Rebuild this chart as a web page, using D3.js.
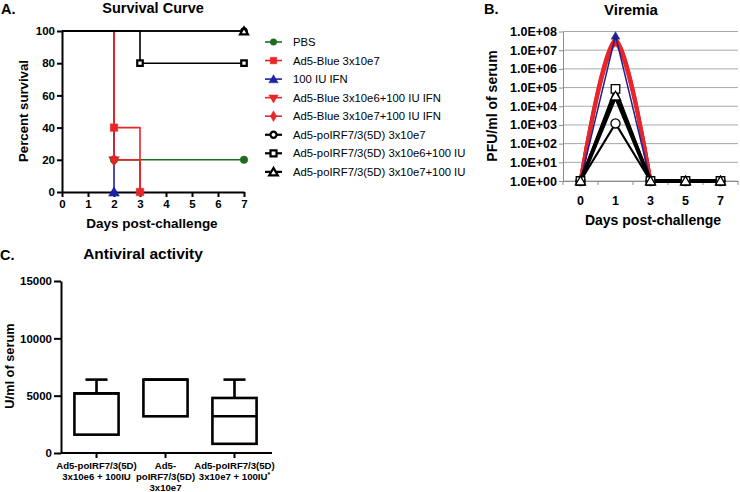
<!DOCTYPE html>
<html><head><meta charset="utf-8">
<script src="https://cdn.jsdelivr.net/npm/d3@7"></script>
<style>
body{margin:0;background:#fff}
svg{display:block;font-family:"Liberation Sans",Arial,Helvetica,sans-serif}
</style>
</head><body>
<svg id="chart" width="740" height="492"></svg>
<script>
// ================= DATA =================
// Panel A: survival curve
const survivalSeries = ["PBS","Ad5-Blue 3x10e7","100 IU IFN","Ad5-Blue 3x10e6+100 IU IFN","Ad5-Blue 3x10e7+100 IU IFN","Ad5-poIRF7/3(5D) 3x10e7","Ad5-poIRF7/3(5D) 3x10e6+100 IU","Ad5-poIRF7/3(5D) 3x10e7+100 IU"];
const survivalDays = [[0,2,7],[0,2,3],[0,2],[0,2,3],[0,2,3],[0,7],[0,3,7],[0,7]];
const survivalPercent = [[100,20,20],[100,40,0],[100,0],[100,20,0],[100,20,0],[100,100],[100,80,80],[100,100]];
const survivalTicksX = [0,1,2,3,4,5,6,7];
const survivalTicksY = [0,20,40,60,80,100];

// Panel B: viremia
const viremiaDays = ["0","1","3","5","7"];
const viremiaSeries = ["Ad5-Blue 3x10e7","Ad5-Blue 3x10e6+100 IU IFN","Ad5-Blue 3x10e7+100 IU IFN","100 IU IFN","Ad5-poIRF7/3(5D) 3x10e7","Ad5-poIRF7/3(5D) 3x10e6+100 IU","Ad5-poIRF7/3(5D) 3x10e7+100 IU"];
const viremiaValues = [
  [1,2.0e7,1,null,null],
  [1,2.8e7,1,null,null],
  [1,3.6e7,1,null,null],
  [1,6.0e7,1,null,null],
  [1,1.2e3,1,1,1],
  [1,8.5e4,1,1,1],
  [1,3.5e4,1,1,1]
];
const viremiaTicks = [1e0,1e1,1e2,1e3,1e4,1e5,1e6,1e7,1e8];
const viremiaTickLabels = ["1.0E+00","1.0E+01","1.0E+02","1.0E+03","1.0E+04","1.0E+05","1.0E+06","1.0E+07","1.0E+08"];

// Panel C: antiviral activity (box plots)
const activityGroups = [["Ad5-poIRF7/3(5D)","3x10e6 + 100IU"],["Ad5-","poIRF7/3(5D)","3x10e7"],["Ad5-poIRF7/3(5D)","3x10e7 + 100IU*"]];
const activityMin = [1600,3200,800];
const activityQ1 = [1600,3200,800];
const activityMedian = [5200,6400,3200];
const activityQ3 = [5200,6400,4800];
const activityMax = [6400,6400,6400];
const activityTicks = [0,5000,10000,15000];

// ================= STYLE =================
const RED = "#e8262a", GREEN = "#1d6b1d", BLUE = "#1f22a8", NAVY = "#1c1f8c";
const survStyle = [
  {color:GREEN, shape:"circle", fill:GREEN},
  {color:RED, shape:"square", fill:RED},
  {color:BLUE, shape:"triangle", fill:BLUE},
  {color:RED, shape:"invtriangle", fill:RED, hideZero:true},
  {color:RED, shape:"diamond", fill:RED, hideZero:true},
  {color:"#000", shape:"circle", fill:"#fff"},
  {color:"#000", shape:"square", fill:"#fff"},
  {color:"#000", shape:"triangle", fill:"#fff"}
];
const drawOrder = [3,0,2,4,1,5,6,7];

const svg = d3.select("#chart");

function marker(g, shape, x, y, size, fill, stroke, sw) {
  let sym;
  const area = size*size;
  if (shape === "circle") sym = d3.symbol(d3.symbolCircle, area*0.8);
  else if (shape === "square") sym = d3.symbol(d3.symbolSquare, area);
  else if (shape === "triangle") sym = d3.symbol(d3.symbolTriangle, area*0.9);
  else if (shape === "invtriangle") sym = d3.symbol(d3.symbolTriangle, area*0.9);
  else sym = d3.symbol(d3.symbolDiamond, area*0.8);
  g.append("path").attr("d", sym())
    .attr("transform", `translate(${x},${y})` + (shape==="invtriangle"?" rotate(180)":"") + (shape==="triangle"?" translate(0,1)":""))
    .attr("fill", fill).attr("stroke", stroke).attr("stroke-width", sw);
}

function styleAxis(g, sw, fs) {
  g.selectAll("path.domain").attr("stroke","#000").attr("stroke-width",sw);
  g.selectAll(".tick line").attr("stroke","#000").attr("stroke-width",sw);
  g.selectAll(".tick text").attr("fill","#000").attr("font-size",fs).attr("font-weight","bold")
    .attr("font-family",'"Liberation Sans",Arial,sans-serif');
}

// ================= PANEL A =================
{
  const x = d3.scaleLinear().domain([0,7]).range([62,244]);
  const y = d3.scaleLinear().domain([0,100]).range([192,31]);
  const g = svg.append("g");

  g.append("text").attr("x",1).attr("y",13.5).text("A.").attr("font-size",14.5).attr("font-weight","bold");
  g.append("text").attr("x",153).attr("y",13).attr("text-anchor","middle").text("Survival Curve").attr("font-size",14.5).attr("font-weight","bold");

  const line = d3.line().x(d=>x(d[0])).y(d=>y(d[1])).curve(d3.curveStepAfter);
  drawOrder.forEach(i => {
    const pts = survivalDays[i].map((d,k)=>[d, survivalPercent[i][k]]);
    g.append("path").attr("d", line(pts)).attr("fill","none")
      .attr("stroke", survStyle[i].color).attr("stroke-width", 1.6);
  });

  const ax = g.append("g").attr("transform","translate(0,192)")
    .call(d3.axisBottom(x).tickValues(survivalTicksX).tickFormat(d3.format("d")).tickSize(5).tickSizeOuter(0).tickPadding(3));
  styleAxis(ax, 2, 11.5);
  const ay = g.append("g").attr("transform","translate(62,0)")
    .call(d3.axisLeft(y).tickValues(survivalTicksY).tickFormat(d3.format("d")).tickSize(5).tickSizeOuter(0).tickPadding(2));
  styleAxis(ay, 2, 11.5);

  drawOrder.forEach(i => {
    const s = survStyle[i];
    survivalDays[i].forEach((d,k) => {
      if (k === 0) return;
      if (s.hideZero && survivalPercent[i][k] === 0) return;
      const open = s.fill === "#fff";
      marker(g, s.shape, x(d), y(survivalPercent[i][k]), open?5.5:7.5, s.fill, s.color, open?2.2:0.5);
    });
  });

  g.append("text").attr("x",152).attr("y",228).attr("text-anchor","middle").text("Days post-challenge")
    .attr("font-size",13.5).attr("font-weight","bold");
  g.append("text").attr("transform","translate(28,111) rotate(-90)").attr("text-anchor","middle")
    .text("Percent survival").attr("font-size",13.2).attr("font-weight","bold");

  // legend
  const lg = svg.append("g");
  survivalSeries.forEach((name,i) => {
    const cy = 42 + i*18.55;
    const s = survStyle[i];
    const open = s.fill === "#fff";
    lg.append("line").attr("x1",265).attr("x2",282).attr("y1",cy).attr("y2",cy)
      .attr("stroke",s.color).attr("stroke-width", open?2.2:1.6);
    marker(lg, s.shape, 273.5, cy, open?6:6.5, s.fill, s.color, open?2.2:0.5);
    lg.append("text").attr("x",293).attr("y",cy+4).text(name).attr("font-size",11.3);
  });
}

// ================= PANEL B =================
{
  const x = d3.scaleBand().domain(viremiaDays).range([563,738]);
  const y = d3.scaleLog().domain([1,1e8]).range([181,31.5]);
  const g = svg.append("g");
  const cx = d => x(d) + x.bandwidth()/2;

  g.append("text").attr("x",484).attr("y",13.5).text("B.").attr("font-size",14.5).attr("font-weight","bold");
  g.append("text").attr("x",631).attr("y",15).attr("text-anchor","middle").text("Viremia").attr("font-size",15).attr("font-weight","bold");

  // gridlines
  g.selectAll("line.grid").data(viremiaTicks).join("line")
    .attr("x1",563).attr("x2",738).attr("y1",d=>y(d)).attr("y2",d=>y(d))
    .attr("stroke","#a9a9a9").attr("stroke-width",1);

  const ay = g.append("g").attr("transform","translate(563,0)")
    .call(d3.axisLeft(y).tickValues(viremiaTicks).tickFormat((d,i)=>viremiaTickLabels[i]).tickSize(4).tickSizeOuter(0).tickPadding(2));
  styleAxis(ay, 1, 12.5);
  ay.selectAll("path.domain, .tick line").attr("stroke","#8c8c8c");

  const ax = g.append("g").attr("transform","translate(0,181)")
    .call(d3.axisBottom(x).tickSize(0).tickPadding(15));
  styleAxis(ax, 1, 12.5);
  ax.select("path.domain").attr("stroke","#8c8c8c");
  const bounds = viremiaDays.map(d=>x(d)).concat([x(viremiaDays[viremiaDays.length-1])+x.bandwidth()]);
  g.selectAll("line.btick").data(bounds).join("line")
    .attr("x1",d=>d).attr("x2",d=>d)
    .attr("y1",181).attr("y2",185).attr("stroke","#8c8c8c");

  const vStyle = [
    {color:RED, w:3.8, curve:true},
    {color:RED, w:3.8, curve:true},
    {color:RED, w:3.8, curve:true},
    {color:NAVY, w:1.5, curve:false},
    {color:"#000", w:2.2, curve:false},
    {color:"#000", w:2.4, curve:false},
    {color:"#000", w:4, curve:false}
  ];
  viremiaValues.forEach((vals,i) => {
    const pts = viremiaDays.map((d,k)=>[cx(d), vals[k]]).filter(p=>p[1]!=null);
    const ln = d3.line().x(p=>p[0]).y(p=>y(p[1]));
    if (vStyle[i].curve) ln.curve(d3.curveCardinal.tension(0));
    g.append("path").attr("d", ln(pts)).attr("fill","none")
      .attr("stroke",vStyle[i].color).attr("stroke-width",vStyle[i].w).attr("stroke-linejoin","round");
  });
  const peakIdx = 1;
  marker(g, "triangle", cx(viremiaDays[peakIdx]), y(viremiaValues[3][peakIdx]), 6, NAVY, NAVY, 0.5);
  const blackShapes = {4:"circle",5:"square",6:"triangle"};
  [4,5,6].forEach(i => {
    viremiaValues[i].forEach((v,k) => {
      if (v==null) return;
      const sh = blackShapes[i];
      const sz = sh==="square" ? 8.5 : sh==="circle" ? 9 : 7;
      marker(g, sh, cx(viremiaDays[k]), y(v), sz, "#fff", "#000", 1.3);
    });
  });

  g.append("text").attr("x",653).attr("y",225).attr("text-anchor","middle").text("Days post-challenge")
    .attr("font-size",14).attr("font-weight","bold");
  g.append("text").attr("transform","translate(497,106) rotate(-90)").attr("text-anchor","middle")
    .text("PFU/ml of serum").attr("font-size",14).attr("font-weight","bold");
}

// ================= PANEL C =================
{
  const keys = activityGroups.map((d,i)=>"g"+i);
  const x = d3.scaleBand().domain(keys).range([62,269]);
  const y = d3.scaleLinear().domain([0,15000]).range([453,281]);
  const g = svg.append("g");
  const cx = k => x(k) + x.bandwidth()/2;

  g.append("text").attr("x",0).attr("y",260).text("C.").attr("font-size",14.5).attr("font-weight","bold");
  g.append("text").attr("x",143).attr("y",259).attr("text-anchor","middle").text("Antiviral activity").attr("font-size",15.5).attr("font-weight","bold");

  const ay = g.append("g").attr("transform","translate(61,0)")
    .call(d3.axisLeft(y).tickValues(activityTicks).tickFormat(d3.format("d")).tickSize(7).tickSizeOuter(0).tickPadding(2));
  styleAxis(ay, 2, 11.5);
  const ax = g.append("g").attr("transform","translate(0,453)")
    .call(d3.axisBottom(x).tickSize(5).tickSizeOuter(0).tickFormat(""));
  styleAxis(ax, 2, 10);
  ax.select("path.domain").attr("d","M61,0H272");

  const bw = x.bandwidth()*0.64;
  keys.forEach((k,i) => {
    const c = cx(k);
    const box = g.append("g").attr("stroke","#000").attr("stroke-width",2.6).attr("fill","none");
    if (activityMax[i] > activityQ3[i]) {
      box.append("line").attr("x1",c).attr("x2",c).attr("y1",y(activityQ3[i])).attr("y2",y(activityMax[i]));
      box.append("line").attr("x1",c-bw/4).attr("x2",c+bw/4).attr("y1",y(activityMax[i])).attr("y2",y(activityMax[i]));
    }
    if (activityMin[i] < activityQ1[i]) {
      box.append("line").attr("x1",c).attr("x2",c).attr("y1",y(activityQ1[i])).attr("y2",y(activityMin[i]));
      box.append("line").attr("x1",c-bw/4).attr("x2",c+bw/4).attr("y1",y(activityMin[i])).attr("y2",y(activityMin[i]));
    }
    box.append("rect").attr("x",c-bw/2).attr("width",bw)
      .attr("y",y(activityQ3[i])).attr("height",y(activityQ1[i])-y(activityQ3[i])).attr("fill","#fff");
    box.append("line").attr("x1",c-bw/2).attr("x2",c+bw/2).attr("y1",y(activityMedian[i])).attr("y2",y(activityMedian[i]));

    const t = g.append("text").attr("text-anchor","middle").attr("font-size",9.6).attr("font-weight","bold");
    activityGroups[i].forEach((ln,j) => {
      const ts = t.append("tspan").attr("x",c).attr("y",468.5 + j*11);
      if (ln.endsWith("*")) {
        ts.text(ln.slice(0,-1));
        ts.append("tspan").text("*").attr("font-size",7).attr("dy",-3);
      } else ts.text(ln);
    });
  });

  g.append("text").attr("transform","translate(14,366) rotate(-90)").attr("text-anchor","middle")
    .text("U/ml of serum").attr("font-size",12.8).attr("font-weight","bold");
}
</script>
</body></html>
